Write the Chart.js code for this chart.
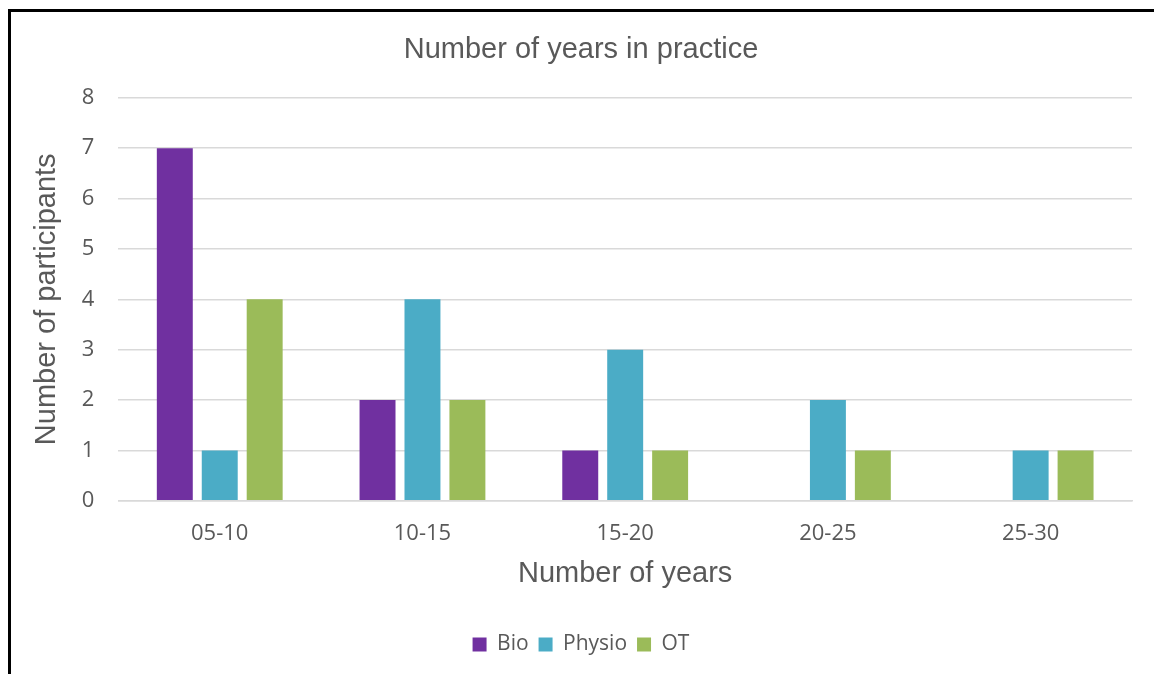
<!DOCTYPE html>
<html>
<head>
<meta charset="utf-8">
<script src="https://cdn.jsdelivr.net/npm/chart.js@4.4.1/dist/chart.umd.min.js"></script>
<style>
  html, body { margin: 0; padding: 0; background: #fff; }
  #wrap { position: relative; width: 1154px; height: 674px; }
  #frame { position: absolute; left: 8px; top: 9px; width: 1146px; height: 665px;
           border-left: 3px solid #000; border-top: 3px solid #000; box-sizing: border-box; }
  canvas { position: absolute; left: 0; top: 0; }
</style>
</head>
<body>
<div id="wrap">
  <canvas id="chart" width="1154" height="674"></canvas>
  <div id="frame"></div>
</div>
<script>
// categories and series
let categories = ["05-10", "10-15", "15-20", "20-25", "25-30"];
let bio = [7, 2, 1, null, null];
let physio = [1, 4, 3, 2, 1];
let ot = [4, 2, 1, 1, 1];
let yTicks = [0, 1, 2, 3, 4, 5, 6, 7, 8];

let gray = '#595959';

let ctx = document.getElementById('chart').getContext('2d');
new Chart(ctx, {
  type: 'bar',
  data: {
    labels: categories,
    datasets: [
      { label: 'Bio', data: bio, backgroundColor: '#7030A0' },
      { label: 'Physio', data: physio, backgroundColor: '#4BACC6' },
      { label: 'OT', data: ot, backgroundColor: '#9BBB59' }
    ]
  },
  options: {
    responsive: false,
    animation: false,
    categoryPercentage: 0.665,
    barPercentage: 0.8,
    layout: { padding: { left: 30, right: 22, top: 33, bottom: 9 } },
    plugins: {
      title: {
        display: true,
        text: 'Number of years in practice',
        color: gray,
        font: { family: 'Liberation Sans', size: 29, weight: 'normal' },
        padding: { top: 0, bottom: 30 }
      },
      legend: {
        position: 'bottom',
        labels: {
          color: gray,
          boxWidth: 14,
          boxHeight: 14,
          padding: 10,
          font: { family: 'Open Sans', size: 21 }
        }
      },
      tooltip: { enabled: false }
    },
    scales: {
      x: {
        grid: { display: false, drawTicks: false },
        border: { color: '#d9d9d9', width: 1.5 },
        ticks: { color: gray, padding: 20, font: { family: 'Open Sans', size: 22 } },
        title: {
          display: true,
          text: 'Number of years',
          color: gray,
          font: { family: 'Liberation Sans', size: 29 },
          padding: { top: -11, bottom: 33 }
        }
      },
      y: {
        min: 0,
        max: 8,
        afterBuildTicks: axis => { axis.ticks = yTicks.map(v => ({ value: v })); },
        grid: { color: '#d9d9d9', lineWidth: 1.5, drawTicks: false },
        border: { display: false },
        ticks: { color: gray, padding: 24, font: { family: 'Open Sans', size: 22 } },
        title: {
          display: true,
          text: 'Number of participants',
          color: gray,
          font: { family: 'Liberation Sans', size: 29 },
          padding: { top: 0, bottom: -7 }
        }
      }
    }
  }
});
</script>
</body>
</html>
